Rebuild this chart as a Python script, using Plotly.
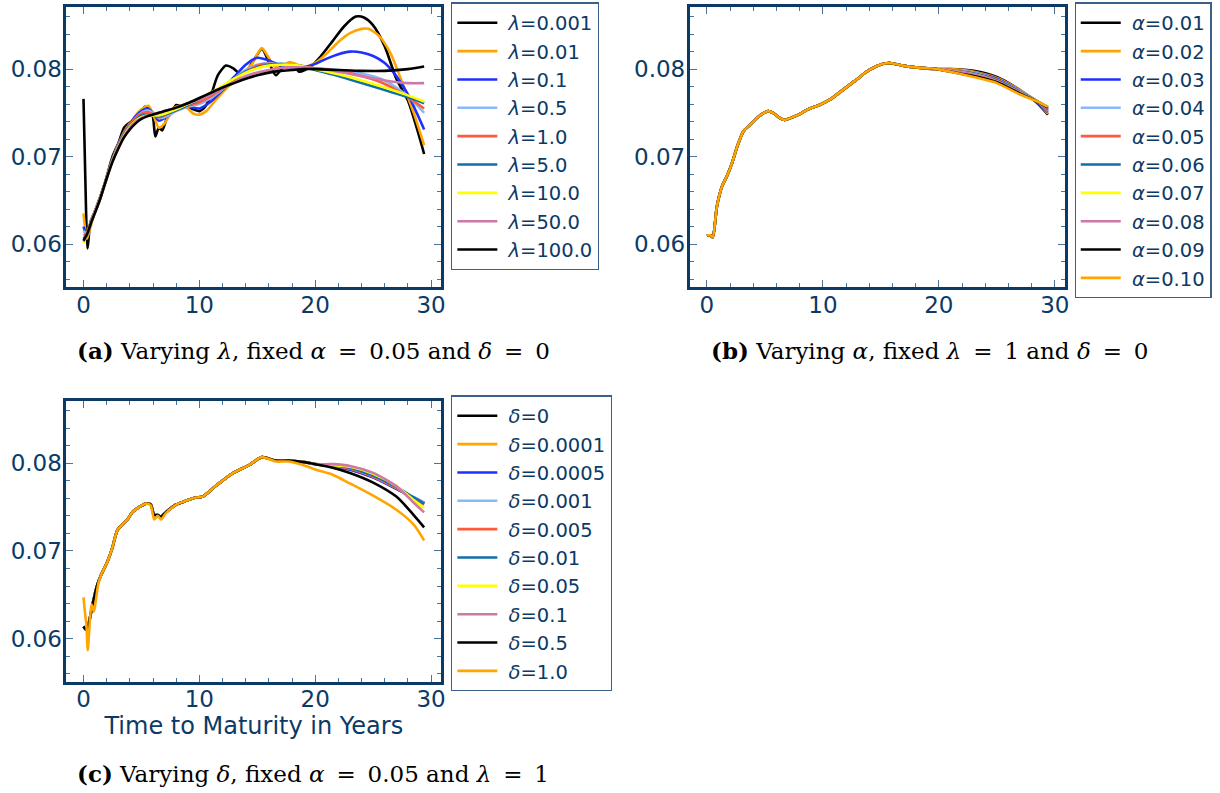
import plotly.graph_objects as go

# ---------------- colours & fonts ----------------
NAVY = "#0b3a66"
TICK = "#4f7396"
PALETTE = ["#000000", "#FFA500", "#1f2fff", "#88b8f8", "#ff5a3c",
           "#0f6faa", "#ffff00", "#cc79a7", "#000000", "#FFA500"]
SANS = "DejaVu Sans"
SERIF = "DejaVu Serif"
NB = "\u00a0"
THIN = "\u2009"

# ---------------- panel (a): varying lambda ----------------
lam_labels = ["0.001", "0.01", "0.1", "0.5", "1.0", "5.0", "10.0", "50.0", "100.0"]

x_lam_0001 = [0, 0.15, 0.35, 0.6, 1.0, 1.4, 2, 2.5, 3, 3.5,
              3.8, 4.2, 4.6, 5.0, 5.3, 5.7, 6.0, 6.2, 6.5, 6.8,
              7.2, 7.6, 8.0, 8.5, 9, 9.5, 10, 10.5, 11, 11.6,
              12.3, 12.9, 13.5, 14, 14.6, 15.4, 16, 16.6, 17.1, 17.7,
              18.2, 18.6, 19.1, 19.7, 20.5, 21.5, 22.5, 23.5, 24.2, 25,
              26, 27, 28, 28.8, 29.4]
y_lam_0001 = [0.0766, 0.0680, 0.0595, 0.0625, 0.0637, 0.0650, 0.0677, 0.0700, 0.0715, 0.0733,
              0.0737, 0.0741, 0.0748, 0.0751, 0.0757, 0.0755, 0.0745, 0.0723, 0.0733, 0.0730,
              0.0744, 0.0750, 0.0759, 0.0757, 0.0757, 0.0754, 0.0752, 0.0757, 0.0770, 0.0793,
              0.0804, 0.0801, 0.0795, 0.0797, 0.0808, 0.0823, 0.0808, 0.0793, 0.0800, 0.0806,
              0.0803, 0.0797, 0.0799, 0.0804, 0.0815, 0.0832, 0.0849, 0.0860, 0.0859, 0.0850,
              0.0826, 0.0789, 0.0764, 0.0731, 0.0703]

x_lam_001 = [0, 0.3, 0.7, 1, 1.5, 2, 2.5, 3, 3.5, 4,
             4.5, 5, 5.6, 6.1, 6.5, 7, 7.5, 8, 8.8, 9.5,
             10, 10.6, 11.5, 12.5, 13.5, 14.5, 15, 15.4, 15.9, 16.5,
             17.2, 17.8, 18.5, 19.2, 20, 21, 22, 23, 24, 24.6,
             25.5, 26.5, 27.5, 28.5, 29.4]
y_lam_001 = [0.0635, 0.0606, 0.0624, 0.0637, 0.0656, 0.0676, 0.0697, 0.0714, 0.0728, 0.0738,
             0.0747, 0.0754, 0.0758, 0.0745, 0.0733, 0.0738, 0.0749, 0.0757, 0.0757, 0.0749,
             0.0748, 0.0752, 0.0766, 0.0780, 0.0792, 0.0805, 0.0817, 0.0824, 0.0815, 0.0803,
             0.0804, 0.0808, 0.0805, 0.0803, 0.0807, 0.0818, 0.0831, 0.0841, 0.0846, 0.0846,
             0.0838, 0.0818, 0.0785, 0.0750, 0.0713]

x_lam_01 = [0, 0.3, 0.7, 1, 1.5, 2, 2.5, 3, 3.5, 4,
            4.5, 5, 5.5, 6, 6.5, 7, 8, 9, 10, 11,
            12, 13, 14, 15, 16, 17, 18, 19, 20, 21,
            22, 23, 24, 25, 26, 27, 28, 29.4]
y_lam_01 = [0.0620, 0.0610, 0.0628, 0.0638, 0.0656, 0.0676, 0.0697, 0.0714, 0.0727, 0.0737,
            0.0746, 0.0752, 0.0755, 0.0750, 0.0741, 0.0744, 0.0753, 0.0757, 0.0755, 0.0763,
            0.0776, 0.0791, 0.0805, 0.0813, 0.0810, 0.0804, 0.0801, 0.0802, 0.0806, 0.0812,
            0.0817, 0.0820, 0.0819, 0.0815, 0.0807, 0.0792, 0.0771, 0.0731]

# smoother fits (lambda >= 0.5) share one maturity grid
x_lam_smooth = [0, 0.3, 0.7, 1, 1.5, 2, 2.5, 3, 3.5, 4,
                4.5, 5, 5.5, 6, 6.5, 7, 8, 9, 10, 11,
                12, 13, 14, 15, 16, 17, 18, 19, 20, 22,
                24, 26, 28, 29.4]
y_lam_05 = [0.0615, 0.0612, 0.0628, 0.0638, 0.0656, 0.0676, 0.0696, 0.0713, 0.0726, 0.0736,
            0.0744, 0.0750, 0.0753, 0.0750, 0.0744, 0.0745, 0.0752, 0.0757, 0.0760, 0.0767,
            0.0777, 0.0789, 0.0799, 0.0805, 0.0807, 0.0805, 0.0803, 0.0802, 0.0801, 0.0799,
            0.0795, 0.0787, 0.0769, 0.0750]
y_lam_1 = [0.0610, 0.0612, 0.0628, 0.0638, 0.0656, 0.0676, 0.0696, 0.0713, 0.0726, 0.0736,
           0.0744, 0.0749, 0.0751, 0.0748, 0.0745, 0.0747, 0.0753, 0.0758, 0.0762, 0.0769,
           0.0778, 0.0788, 0.0797, 0.0804, 0.0806, 0.0805, 0.0804, 0.0802, 0.0801, 0.0798,
           0.0792, 0.0783, 0.0768, 0.0755]
y_lam_5 = [0.0606, 0.0612, 0.0628, 0.0638, 0.0656, 0.0676, 0.0696, 0.0712, 0.0725, 0.0735,
           0.0742, 0.0747, 0.0748, 0.0747, 0.0746, 0.0748, 0.0753, 0.0759, 0.0765, 0.0772,
           0.0780, 0.0789, 0.0797, 0.0802, 0.0805, 0.0806, 0.0805, 0.0803, 0.0799, 0.0792,
           0.0784, 0.0776, 0.0768, 0.0761]
y_lam_10 = [0.0601, 0.0611, 0.0627, 0.0637, 0.0655, 0.0675, 0.0695, 0.0711, 0.0724, 0.0734,
            0.0741, 0.0745, 0.0747, 0.0747, 0.0747, 0.0749, 0.0754, 0.0760, 0.0766, 0.0773,
            0.0781, 0.0789, 0.0796, 0.0801, 0.0804, 0.0805, 0.0805, 0.0803, 0.0800, 0.0794,
            0.0787, 0.0779, 0.0770, 0.0763]
y_lam_50 = [0.0603, 0.0611, 0.0627, 0.0637, 0.0655, 0.0675, 0.0694, 0.0710, 0.0723, 0.0733,
            0.0740, 0.0744, 0.0747, 0.0749, 0.0750, 0.0752, 0.0756, 0.0761, 0.0765, 0.0771,
            0.0778, 0.0785, 0.0792, 0.0796, 0.0799, 0.0801, 0.0802, 0.0802, 0.0801, 0.0797,
            0.0792, 0.0787, 0.0784, 0.0784]
y_lam_100 = [0.0604, 0.0611, 0.0626, 0.0636, 0.0654, 0.0675, 0.0694, 0.0709, 0.0722, 0.0731,
             0.0738, 0.0743, 0.0746, 0.0748, 0.0750, 0.0752, 0.0756, 0.0761, 0.0767, 0.0773,
             0.0779, 0.0784, 0.0789, 0.0793, 0.0796, 0.0798, 0.0799, 0.0800, 0.0800, 0.0799,
             0.0798, 0.0798, 0.0800, 0.0803]

lam_series = [
    (x_lam_0001, y_lam_0001), (x_lam_001, y_lam_001), (x_lam_01, y_lam_01),
    (x_lam_smooth, y_lam_05), (x_lam_smooth, y_lam_1), (x_lam_smooth, y_lam_5),
    (x_lam_smooth, y_lam_10), (x_lam_smooth, y_lam_50), (x_lam_smooth, y_lam_100),
]

# ---------------- panel (b): varying alpha ----------------
alpha_labels = ["0.01", "0.02", "0.03", "0.04", "0.05", "0.06", "0.07", "0.08", "0.09", "0.10"]

x_alpha_head = [0, 0.3, 0.5, 0.86, 1.3, 1.7, 2.15, 2.6, 3.15, 3.7,
                4.3, 4.9, 5.3, 5.7, 6.3, 6.7, 7.2, 7.9, 8.7, 9.7,
                10.6, 11.7, 12.9, 14.0, 15.2, 15.8, 16.9, 18, 19.8]
y_alpha_head = [0.0610, 0.0610, 0.0608, 0.0643, 0.0666, 0.0677, 0.0692, 0.0711, 0.0729, 0.0736,
                0.0744, 0.0750, 0.0752, 0.0750, 0.0744, 0.0742, 0.0744, 0.0748, 0.0754, 0.0759,
                0.0765, 0.0776, 0.0788, 0.0799, 0.0806, 0.0807, 0.0804, 0.0802, 0.0800]
x_alpha_tail = [21, 23, 25, 27, 28.5, 29.4]
y_alpha_tails = [
    [0.0800, 0.0798, 0.0791, 0.0776, 0.0761, 0.0748],
    [0.0800, 0.0797, 0.0790, 0.0776, 0.0762, 0.0749],
    [0.0799, 0.0796, 0.0789, 0.0775, 0.0762, 0.0751],
    [0.0799, 0.0796, 0.0788, 0.0775, 0.0763, 0.0752],
    [0.0799, 0.0795, 0.0788, 0.0774, 0.0763, 0.0753],
    [0.0798, 0.0795, 0.0787, 0.0774, 0.0763, 0.0754],
    [0.0798, 0.0794, 0.0786, 0.0773, 0.0763, 0.0755],
    [0.0798, 0.0794, 0.0786, 0.0773, 0.0763, 0.0755],
    [0.0797, 0.0792, 0.0785, 0.0772, 0.0763, 0.0756],
    [0.0797, 0.0791, 0.0784, 0.0771, 0.0763, 0.0757],
]

# ---------------- panel (c): varying delta ----------------
delta_labels = ["0", "0.0001", "0.0005", "0.001", "0.005", "0.01", "0.05", "0.1", "0.5", "1.0"]

x_delta_head = [0, 0.26, 0.5, 0.78, 1.2, 1.6, 2.1, 2.5, 2.9, 3.4,
                3.8, 4.2, 4.8, 5.4, 5.8, 6.1, 6.4, 6.7, 7.1, 8.0,
                8.8, 9.7, 10.3, 11.4, 12.8, 14.3, 15.4, 16.6, 17.7, 19.2, 20]
y_delta_head = [0.0614, 0.0610, 0.0620, 0.0639, 0.0662, 0.0675, 0.0689, 0.0704, 0.0723, 0.0731,
                0.0736, 0.0744, 0.0750, 0.0754, 0.0753, 0.0741, 0.0741, 0.0739, 0.0744, 0.0753,
                0.0757, 0.0761, 0.0762, 0.0774, 0.0788, 0.0798, 0.0807, 0.0803, 0.0803, 0.0801, 0.0799]
# the largest penalty bends away early and is kept on its own grid
x_delta_1_head = [0, 0.15, 0.25, 0.37, 0.55, 0.7, 0.9, 1.06, 1.3, 1.6,
                  2.1, 2.5, 2.9, 3.4, 3.8, 4.2, 4.8, 5.4, 5.8, 6.1,
                  6.4, 6.7, 7.1, 8.0, 8.8, 9.7, 10.3, 11.4, 12.8, 14.3,
                  15.4, 16.6, 17.7, 19.2, 20]
y_delta_1_head = [0.0647, 0.0627, 0.0616, 0.0587, 0.0620, 0.0639, 0.0631, 0.0643, 0.0664, 0.0675,
                  0.0689, 0.0704, 0.0723, 0.0731, 0.0736, 0.0744, 0.0750, 0.0754, 0.0752, 0.0736,
                  0.0740, 0.0736, 0.0743, 0.0753, 0.0757, 0.0761, 0.0762, 0.0774, 0.0788, 0.0798,
                  0.0807, 0.0802, 0.0802, 0.0797, 0.0793]
x_delta_tail = [21.5, 23, 25, 27, 28.5, 29.4]
y_delta_tails = [
    [0.0797, 0.0793, 0.0784, 0.0771, 0.0760, 0.0754],
    [0.0797, 0.0793, 0.0784, 0.0771, 0.0761, 0.0755],
    [0.0797, 0.0793, 0.0784, 0.0771, 0.0761, 0.0755],
    [0.0797, 0.0794, 0.0785, 0.0772, 0.0761, 0.0755],
    [0.0797, 0.0794, 0.0785, 0.0772, 0.0760, 0.0753],
    [0.0798, 0.0795, 0.0786, 0.0773, 0.0761, 0.0754],
    [0.0798, 0.0796, 0.0788, 0.0774, 0.0758, 0.0749],
    [0.0799, 0.0797, 0.0789, 0.0774, 0.0755, 0.0744],
    [0.0795, 0.0789, 0.0778, 0.0762, 0.0741, 0.0727],
    [0.0787, 0.0777, 0.0763, 0.0747, 0.0730, 0.0712],
]

# ---------------- axis setup ----------------
x_ticks = [0, 10, 20, 30]
y_ticks = [0.06, 0.07, 0.08]
y_tick_text = ["0.06", "0.07", "0.08"]
X_RANGE = [-1.47, 30.87]
Y_RANGE = [0.0551, 0.0871]

fig = go.Figure()


def add_curve(x, y, color, name, xa, ya, legend, idx):
    fig.add_trace(go.Scatter(
        x=x, y=y, mode="lines", name=NB + name,
        line=dict(color=color, width=2.6, shape="spline", smoothing=0.7),
        xaxis=xa, yaxis=ya, legend=legend, legendgroup=f"{legend}-{idx}",
        hoverinfo="skip",
    ))


for i, ((x, y), lab) in enumerate(zip(lam_series, lam_labels)):
    add_curve(x, y, PALETTE[i], f"<i>λ</i>={lab}", "x", "y", "legend", i)

for i, (tail, lab) in enumerate(zip(y_alpha_tails, alpha_labels)):
    add_curve(x_alpha_head + x_alpha_tail, y_alpha_head + tail, PALETTE[i],
              f"<i>α</i>={lab}", "x2", "y2", "legend2", i)

for i, (tail, lab) in enumerate(zip(y_delta_tails, delta_labels)):
    if i == len(delta_labels) - 1:
        xs, ys = x_delta_1_head + x_delta_tail, y_delta_1_head + tail
    else:
        xs, ys = x_delta_head + x_delta_tail, y_delta_head + tail
    add_curve(xs, ys, PALETTE[i], f"<i>δ</i>={lab}", "x3", "y3", "legend3", i)

tick_font = dict(family=SANS, size=23, color=NAVY)


def xaxis(domain, anchor, title=None):
    ax = dict(domain=domain, anchor=anchor, range=X_RANGE, tickvals=x_ticks,
              ticks="inside", ticklen=7, tickwidth=1.4, tickcolor=TICK,
              minor=dict(tick0=0, dtick=2, ticks="inside", ticklen=4, tickwidth=1.2, tickcolor=TICK),
              showline=True, linecolor=NAVY, linewidth=3, mirror="allticks",
              showgrid=False, zeroline=False, tickfont=tick_font, ticklabelstandoff=-5)
    if title:
        ax["title"] = dict(text=title, font=dict(family=SANS, size=24, color=NAVY), standoff=0)
    return ax


def yaxis(domain, anchor):
    return dict(domain=domain, anchor=anchor, range=Y_RANGE, tickvals=y_ticks, ticktext=y_tick_text,
                ticks="inside", ticklen=7, tickwidth=1.4, tickcolor=TICK,
                minor=dict(tick0=0, dtick=0.002, ticks="inside", ticklen=4, tickwidth=1.2, tickcolor=TICK),
                showline=True, linecolor=NAVY, linewidth=3, mirror="allticks",
                showgrid=False, zeroline=False, tickfont=tick_font, ticklabelstandoff=-3)


def legend_box(x, y):
    return dict(x=x, y=y, xanchor="left", yanchor="top", bgcolor="white",
                bordercolor="#3b5f86", borderwidth=1.2, tracegroupgap=0,
                font=dict(family=SANS, size=19.5, color=NAVY), itemwidth=40)


top_dom = [0.6381, 0.9912]
bot_dom = [0.1404, 0.4943]
left_dom = [0.0547, 0.3631]
right_dom = [0.5678, 0.8765]

EQ = NB + THIN + "=" + THIN + NB
caption_font = dict(family=SERIF, size=23, color="black")
captions = [
    (0.0615, 0.5586, f"<b>(a)</b> Varying <i>λ</i>, fixed <i>α</i>{EQ}0.05 and <i>δ</i>{EQ}0"),
    (0.5836, 0.5586, f"<b>(b)</b> Varying <i>α</i>, fixed <i>λ</i>{EQ}1 and <i>δ</i>{EQ}0"),
    (0.0615, 0.0252, f"<b>(c)</b> Varying <i>δ</i>, fixed <i>α</i>{EQ}0.05 and <i>λ</i>{EQ}1"),
]

fig.update_layout(
    width=1220, height=793,
    margin=dict(l=0, r=0, t=0, b=0),
    paper_bgcolor="white", plot_bgcolor="white",
    showlegend=True,
    xaxis=xaxis(left_dom, "y"), yaxis=yaxis(top_dom, "x"),
    xaxis2=xaxis(right_dom, "y2"), yaxis2=yaxis(top_dom, "x2"),
    xaxis3=xaxis(left_dom, "y3", "Time to Maturity in Years"), yaxis3=yaxis(bot_dom, "x3"),
    legend=legend_box(0.3713, 0.997),
    legend2=legend_box(0.8844, 0.997),
    legend3=legend_box(0.3713, 0.5014),
    annotations=[dict(x=cx, y=cy, xref="paper", yref="paper", xanchor="left", yanchor="middle",
                      text=t, showarrow=False, font=caption_font) for cx, cy, t in captions],
)

fig.write_html("out.html")
